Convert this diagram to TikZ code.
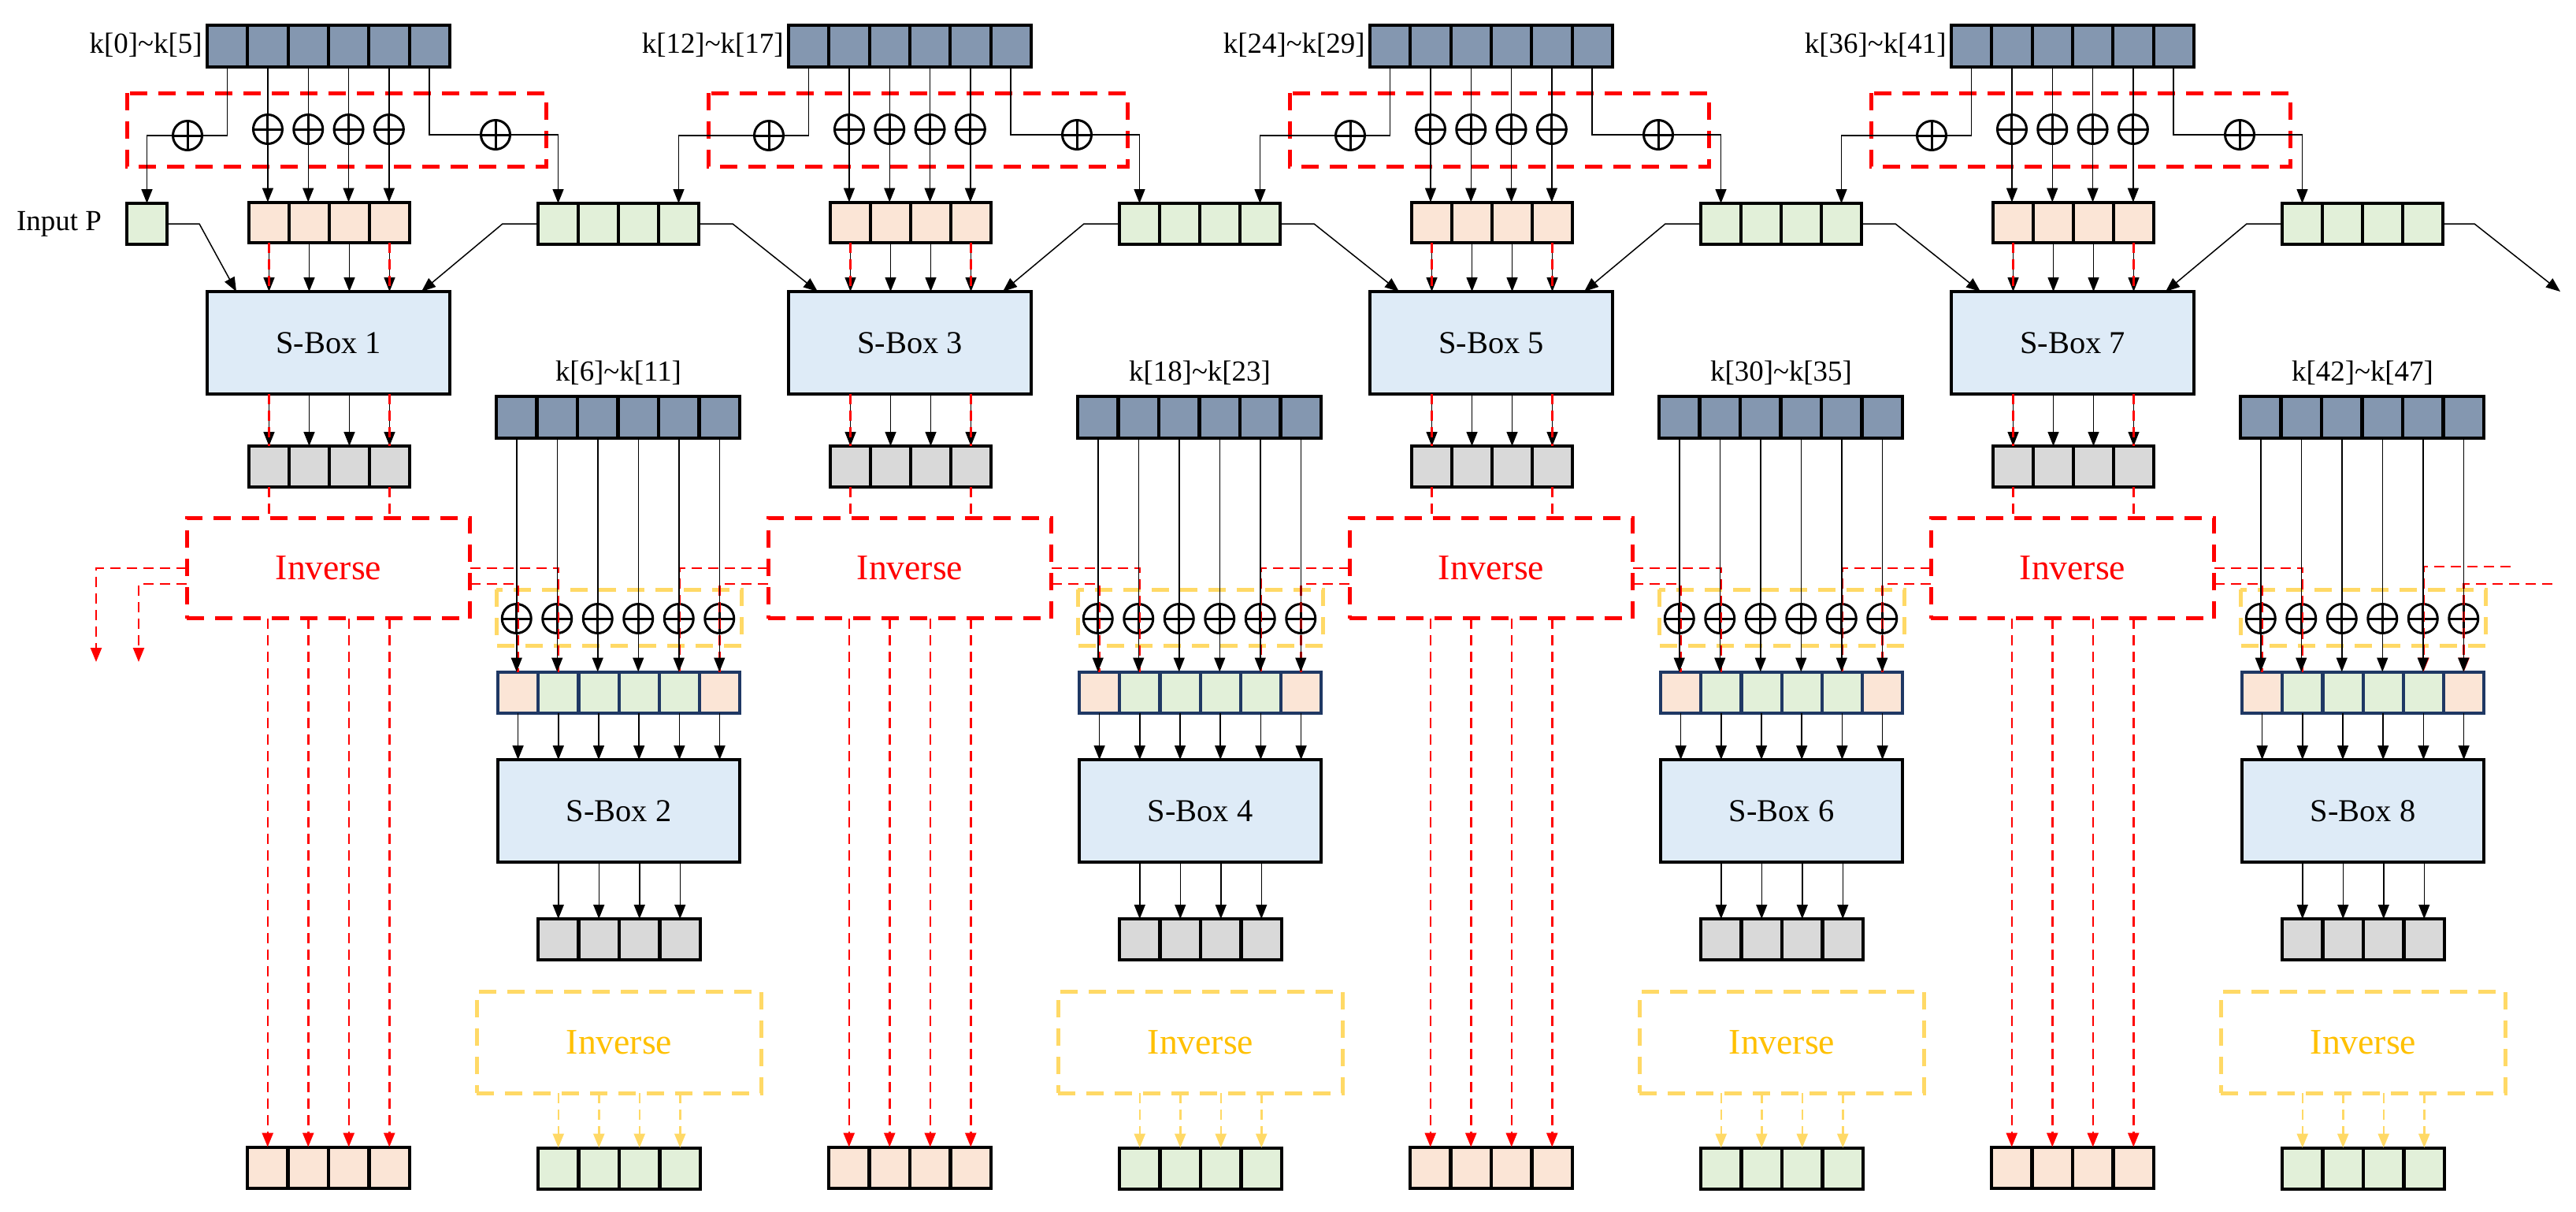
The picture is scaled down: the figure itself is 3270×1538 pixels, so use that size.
\documentclass[tikz,border=0pt]{standalone}
\usepackage{fontspec}
\setmainfont{Liberation Serif}
\usetikzlibrary{arrows.meta,calc}
\definecolor{keyc}{HTML}{8497B0}
\definecolor{orc}{HTML}{FBE5D6}
\definecolor{grc}{HTML}{E2F0D9}
\definecolor{sbc}{HTML}{DEEBF7}
\definecolor{gyc}{HTML}{D9D9D9}
\definecolor{yel}{HTML}{FFD966}
\definecolor{yelt}{HTML}{FFC000}
\definecolor{navy}{HTML}{1F3864}
\begin{document}
\begin{tikzpicture}[x=0.02cm,y=-0.02cm,
  cell/.style={draw=black,line width=0.08cm,minimum width=1.02cm,minimum height=1.04cm,inner sep=0pt,outer sep=0pt},
  kcell/.style={cell,fill=keyc,minimum width=1.026cm,minimum height=1.06cm},
  thin/.style={line width=0.03cm},
  arr/.style={thin,-{Triangle[length=0.36cm,width=0.28cm]}},
  rd/.style={red,line width=0.05cm,dash pattern=on 0.26cm off 0.16cm},
  rdarr/.style={rd,-{Triangle[length=0.36cm,width=0.28cm]}},
  yarr/.style={yel,line width=0.05cm,dash pattern=on 0.26cm off 0.16cm,-{Triangle[length=0.36cm,width=0.28cm]}},
  rbox/.style={draw=red,line width=0.1cm,dash pattern=on 0.44cm off 0.28cm},
  ybox/.style={draw=yel,line width=0.1cm,dash pattern=on 0.44cm off 0.28cm},
  lab/.style={inner sep=0pt,font=\fontsize{21}{25}\selectfont},
  sbox/.style={draw,fill=sbc,line width=0.08cm,minimum width=6.16cm,minimum height=2.6cm,inner sep=0pt,outer sep=0pt,font=\fontsize{23}{27}\selectfont},
  inv/.style={rbox,minimum width=7.2cm,minimum height=2.56cm,inner sep=0pt,outer sep=0pt,text=red,font=\fontsize{26}{30}\selectfont},
  yinv/.style={ybox,minimum width=7.24cm,minimum height=2.58cm,inner sep=0pt,outer sep=0pt,text=yelt,font=\fontsize{26}{30}\selectfont},
  xor/.style={circle,draw,line width=0.06cm,minimum size=0.74cm,inner sep=0pt,
    path picture={\draw[line width=0.06cm] (path picture bounding box.north) -- (path picture bounding box.south) (path picture bounding box.west) -- (path picture bounding box.east);}}
]
\useasboundingbox (0,0) rectangle (3270,1538);
% ---------- input P
\node[cell,fill=grc] (P) at (186.5,284) {};
\node[lab] (PL) at (75,284) {Input P};
\coordinate (END) at (3250,370);
\coordinate (LA) at (122,840);
\coordinate (LB) at (176,840);
\coordinate (RA) at (3187,719);
\coordinate (RB) at (3240,741);
% ---------- odd units: nodes
\foreach \u in {0,1,2,3}{
  \pgfmathsetmacro\dx{738*\u}
  \pgfmathtruncatemacro\ka{12*\u}
  \pgfmathtruncatemacro\kb{12*\u+5}
  \pgfmathtruncatemacro\sn{2*\u+1}
  \node[lab,anchor=east] (KL\u) at (257+\dx,57) {k[\ka]\textasciitilde k[\kb]};
  \foreach \i in {1,...,6}
    \node[kcell] (K\u-\i) at ({263+\dx+51.3*(\i-0.5)},58.5) {};
  \draw[rbox] (161+\dx,118) rectangle (693+\dx,211);
  \foreach \i in {1,...,4}{
    \node[cell,fill=orc] (O\u-\i) at ({316+\dx+51*(\i-0.5)},282.5) {};
    \node[cell,fill=gyc] (R\u-\i) at ({316+\dx+51*(\i-0.5)},592) {};
    \node[cell,fill=orc] (B\u-\i) at ({314+\dx+51.5*(\i-0.5)},1481.5) {};
    \node[cell,fill=grc] (G\u-\i) at ({683+\dx+51*(\i-0.5)},284) {};
  }
  \foreach \i in {2,...,5}
    \node[xor] (X\u-\i) at (K\u-\i.south |- 0,164) {};
  \node[xor] (XL\u) at (238+\dx,172) {};
  \node[xor] (XR\u) at (629+\dx,171) {};
  \node[sbox] (S\u) at (417+\dx,435) {S-Box \sn};
  \node[inv] (I\u) at (417+\dx,721) {Inverse};
}
% ---------- even units: nodes
\foreach \v in {0,1,2,3}{
  \pgfmathsetmacro\dx{738*\v}
  \pgfmathtruncatemacro\ka{12*\v+6}
  \pgfmathtruncatemacro\kb{12*\v+11}
  \pgfmathtruncatemacro\sn{2*\v+2}
  \node[lab] (EL\v) at (785+\dx,473) {k[\ka]\textasciitilde k[\kb]};
  \foreach \i in {1,...,6}
    \node[kcell] (E\v-\i) at ({630+\dx+51.5*(\i-0.5)},529.5) {};
  \draw[ybox] (630+\dx,748) rectangle (941+\dx,819);
  \foreach \i/\c in {1/orc,2/grc,3/grc,4/grc,5/grc,6/orc}{
    \node[xor] (Y\v-\i) at (E\v-\i.south |- 0,785) {};
    \node[cell,draw=navy,fill=\c] (D\v-\i) at ({632+\dx+51.2*(\i-0.5)},878.5) {};
  }
  \node[sbox,minimum width=6.14cm] (T\v) at (785.5+\dx,1029) {S-Box \sn};
  \foreach \i in {1,...,4}{
    \node[cell,fill=gyc] (H\v-\i) at ({683+\dx+51.5*(\i-0.5)},1192) {};
    \node[cell,fill=grc] (F\v-\i) at ({683+\dx+51.5*(\i-0.5)},1482.5) {};
  }
  \node[yinv] (J\v) at (786+\dx,1322.5) {Inverse};
}
% ---------- odd units: connectors
\draw[arr] (P.east) -- ++(41,0) -- ($(S0.north west)+(37,0)$);
\foreach \u in {0,1,2,3}{
  \pgfmathtruncatemacro\pu{\u-1}
  \pgfmathtruncatemacro\nu{\u+1}
  \foreach \i in {2,...,5}
    \draw[arr] (K\u-\i.south) -- (K\u-\i.south |- O\u-1.north);
  \ifnum\u=0
    \draw[arr] (K0-1.south) |- (P.north |- XL0.center) -- (P.north);
  \else
    \draw[arr] (K\u-1.south) |- (G\pu-4.north |- XL\u.center) -- (G\pu-4.north);
  \fi
  \draw[arr] (K\u-6.south) |- (G\u-1.north |- XR\u.center) -- (G\u-1.north);
  \draw[arr] (G\u-1.west) -- ++(-45,0) -- ($(S\u.north east)+(-36,0)$);
  \ifnum\u=3
    \draw[arr] (G3-4.east) -- ++(40,0) -- (END);
  \else
    \draw[arr] (G\u-4.east) -- ++(43,0) -- ($(S\nu.north west)+(37,0)$);
  \fi
  \foreach \i in {1,...,4}{
    \draw[arr] (O\u-\i.south) -- (O\u-\i.south |- S\u.north);
    \draw[arr] (S\u.south -| R\u-\i) -- (R\u-\i.north);
    \draw[rdarr] (I\u.south -| B\u-\i) -- (B\u-\i.north);
  }
  \foreach \i in {1,4}{
    \draw[rd] (O\u-\i.south) -- (O\u-\i.south |- S\u.north);
    \draw[rd] (S\u.south -| R\u-\i) -- (R\u-\i.north);
    \draw[rd] (R\u-\i.south) -- (R\u-\i.south |- I\u.north);
  }
  % red cross connections
  \draw[rd] (I\u.east) -| (D\u-2.north);
  \draw[rd] (I\u.east |- 0,741) -| (D\u-1.north);
  \ifnum\u=0
    \draw[rdarr] (I0.west) -| (LA);
    \draw[rdarr] (I0.west |- 0,741) -| (LB);
  \else
    \draw[rd] (I\u.west) -| (D\pu-5.north);
    \draw[rd] (I\u.west |- 0,741) -| (D\pu-6.north);
  \fi
}
\draw[rdarr] (RA) -| (D3-5.north);
\draw[rdarr] (RB) -| (D3-6.north);
% ---------- even units: connectors
\foreach \v in {0,1,2,3}{
  \foreach \i in {1,...,6}{
    \draw[arr] (E\v-\i.south) -- (E\v-\i.south |- D\v-1.north);
    \draw[arr] (D\v-\i.south) -- (D\v-\i.south |- T\v.north);
  }
  \foreach \i in {1,...,4}{
    \draw[arr] (T\v.south -| H\v-\i) -- (H\v-\i.north);
    \draw[yarr] (J\v.south -| F\v-\i) -- (F\v-\i.north);
  }
}
\end{tikzpicture}
\end{document}
